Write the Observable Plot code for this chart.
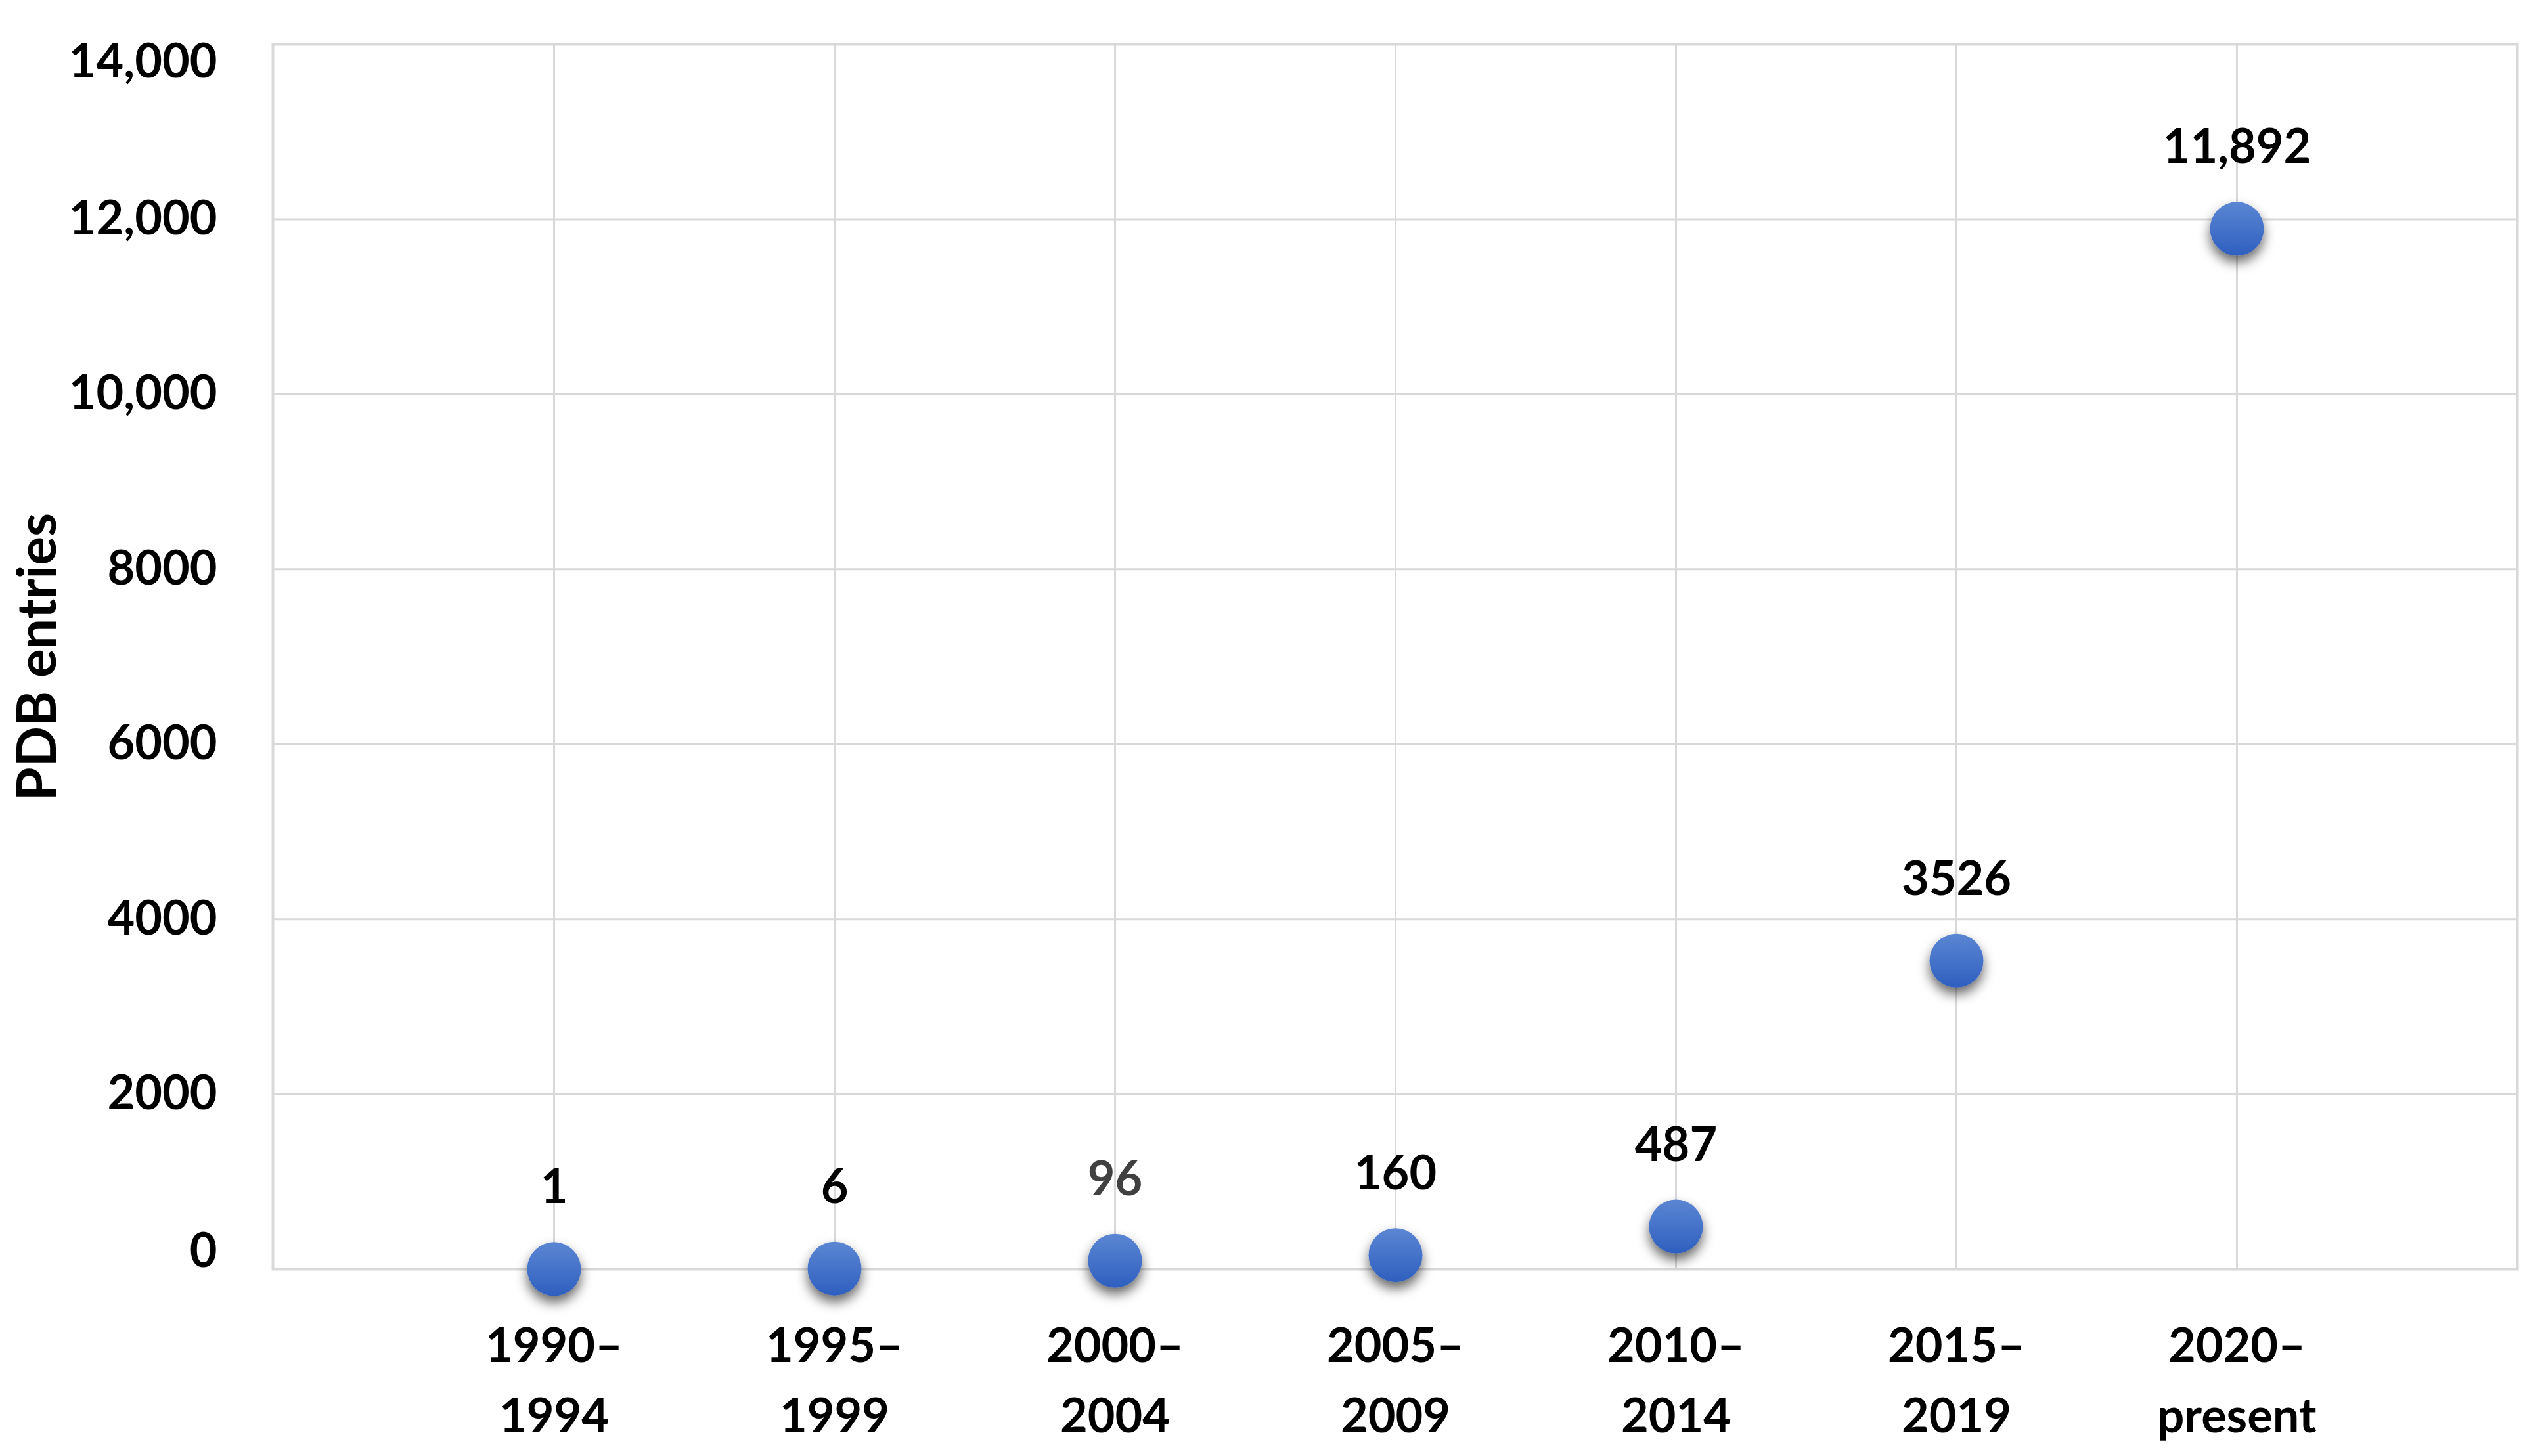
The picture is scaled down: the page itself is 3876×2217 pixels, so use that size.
<!DOCTYPE html>
<html>
<head>
<meta charset="utf-8">
<script src="https://cdn.jsdelivr.net/npm/d3@7"></script>
<script src="https://cdn.jsdelivr.net/npm/@observablehq/plot@0.6"></script>
<style>
html, body { margin: 0; padding: 0; background: #fff; overflow: hidden; }
svg { display: block; }
</style>
</head>
<body>
<div id="chart"></div>
<script>
const periods = ["1990–1994", "1995–1999", "2000–2004", "2005–2009", "2010–2014", "2015–2019", "2020–present"];
const entries = [1, 6, 96, 160, 487, 3526, 11892];
const entryLabels = ["1", "6", "96", "160", "487", "3526", "11,892"];
const yTickValues = [0, 2000, 4000, 6000, 8000, 10000, 12000, 14000];
const yTickLabels = ["0", "2000", "4000", "6000", "8000", "10,000", "12,000", "14,000"];
const yTitle = "PDB entries";

const data = periods.map((p, i) => ({period: p, value: entries[i], label: entryLabels[i]}));
const yLabelOf = new Map(yTickValues.map((v, i) => [v, yTickLabels[i]]));
const font = "Lato, 'Open Sans', sans-serif";
const yAxisOpts = {tickSize: 0, tickPadding: 85, tickFormat: v => yLabelOf.get(v), label: null, fontWeight: "bold", fill: "#000"};

const plot = Plot.plot({
  width: 3876,
  height: 2217,
  marginLeft: 415,
  marginRight: 44,
  marginTop: 67,
  marginBottom: 285,
  style: {fontFamily: font, fontSize: "72px", fontWeight: "bold", color: "#000", background: "#fff"},
  x: {type: "point", domain: periods, padding: 1},
  y: {domain: [0, 14000]},
  color: {type: "identity"},
  marks: [
    Plot.gridY(yTickValues, {stroke: "#d9d9d9", strokeOpacity: 1, strokeWidth: 3}),
    Plot.gridX(periods, {stroke: "#d9d9d9", strokeOpacity: 1, strokeWidth: 3}),
    Plot.frame({stroke: "#d9d9d9", strokeWidth: 4}),
    Plot.axisY(yTickValues.filter(v => v > 0 && v < 14000), yAxisOpts),
    Plot.axisY([14000], {...yAxisOpts, dy: 27}),
    Plot.axisY([0], {...yAxisOpts, dy: -27}),
    Plot.axisX(periods, {tickSize: 0, tickPadding: 66, tickFormat: d => d.replace("–", "–\n"), lineHeight: 1.48, label: null, fontWeight: "bold", fill: "#000"}),
    Plot.dot(data, {x: "period", y: "value", r: 41, fill: "url(#dotGrad)", stroke: null}),
    Plot.text(data, {x: "period", y: "value", text: "label", dy: -123, fontSize: 72, fontWeight: "bold",
      fill: d => d.period === "2000–2004" ? "#404040" : "#000"}),
    Plot.text([yTitle], {frameAnchor: "left", text: d => d, textAnchor: "middle", rotate: -90, dx: -357, fontSize: 82, fontWeight: "bold", fill: "#000"})
  ]
});

document.getElementById("chart").appendChild(plot);

const svg = d3.select(plot);
const defs = svg.insert("defs", ":first-child");
const grad = defs.append("linearGradient").attr("id", "dotGrad")
  .attr("x1", 0).attr("y1", 0).attr("x2", 0).attr("y2", 1);
grad.append("stop").attr("offset", "0%").attr("stop-color", "#5b86d3");
grad.append("stop").attr("offset", "100%").attr("stop-color", "#2f5fbf");
const filt = defs.append("filter").attr("id", "dotShadow")
  .attr("x", "-60%").attr("y", "-60%").attr("width", "220%").attr("height", "220%");
filt.append("feDropShadow").attr("dx", 0).attr("dy", 10).attr("stdDeviation", 9)
  .attr("flood-color", "#000").attr("flood-opacity", 0.6);
svg.selectAll('g[aria-label="dot"]').attr("filter", "url(#dotShadow)");
</script>
</body>
</html>
